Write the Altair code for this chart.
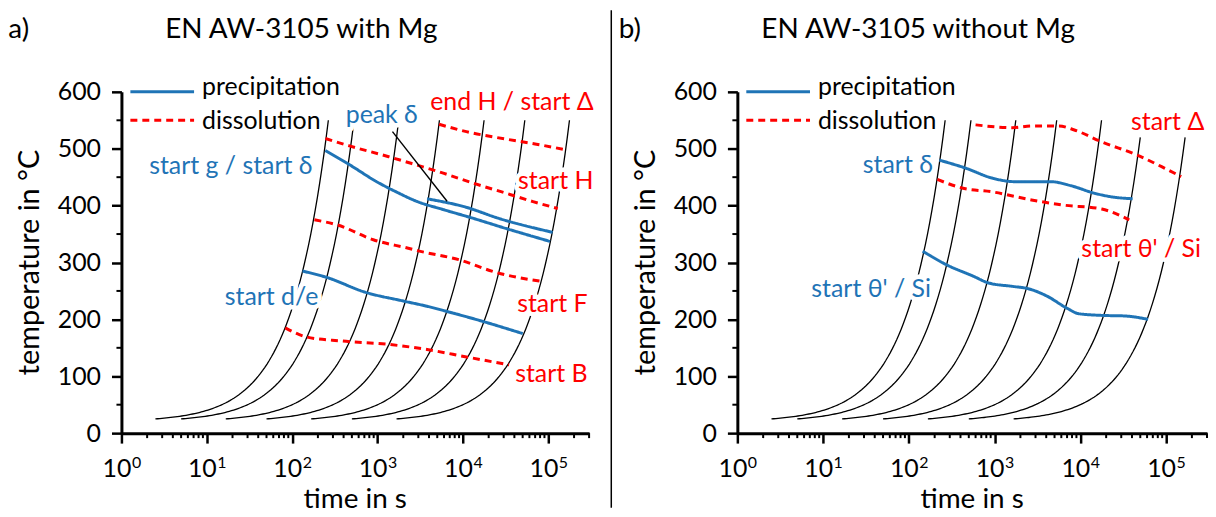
import altair as alt
import pandas as pd
import numpy as np

FONT = "Lato"
BLUE = "#1f74b6"
RED = "#ff0000"

# ---------------- data ----------------
heating_rates = [2, 1, 0.3, 0.1, 0.03, 0.01, 0.003]   # K/s
T_room = 20
T_first = 25
end_temp_a = [550, 550, 550, 550, 550, 550, 550]
end_temp_b = [550, 550, 550, 550, 550, 520, 520]

# panel a) with Mg  (time in s, temperature in degC)
a_g_delta_t = [244, 468, 977, 1660, 2818, 5888, 12303, 31623, 104713]
a_g_delta_T = [497, 472, 442, 424, 408, 393, 379, 360, 337]
a_peak_t = [3802, 10965, 25704, 112202]
a_peak_T = [412, 397, 378, 353]
a_de_t = [132, 251, 708, 2042, 3802, 6457, 16596, 50119]
a_de_T = [285, 274, 248, 232, 223, 214, 197, 175]
a_H_t = [245, 468, 1349, 2512, 5888, 13490, 31623, 66069, 128825]
a_H_T = [518, 505, 486, 474, 457, 439, 422, 407, 395]
a_endH_t = [5248, 10965, 31623, 72444, 162181]
a_endH_T = [543, 530, 517, 508, 498]
a_F_t = [182, 339, 891, 2291, 3090, 8913, 25119, 81283]
a_F_T = [375, 366, 340, 325, 320, 305, 282, 267]
a_B_t = [83, 148, 380, 1349, 3802, 10965, 34674]
a_B_T = [185, 169, 162, 156, 147, 134, 120]

# panel b) without Mg
b_delta_t = [226, 457, 955, 1778, 2692, 4571, 7762, 14454, 21878, 40738]
b_delta_T = [480, 466, 448, 442, 442, 442, 435, 422, 416, 412]
b_theta_t = [145, 275, 562, 851, 1622, 2455, 4074, 6918, 9550, 17783, 33113, 61660]
b_theta_T = [320, 296, 276, 264, 258, 254, 241, 220, 210, 207, 206, 200]
b_thdis_t = [215, 417, 955, 2692, 6310, 17783, 37154]
b_thdis_T = [446, 431, 424, 410, 401, 394, 375]
b_Delta_t = [600, 1622, 2692, 5623, 8511, 17783, 45709, 95499, 150000]
b_Delta_T = [542, 537, 540, 540, 533, 512, 489, 466, 451]

kinds = ["precipitation", "dissolution"]

# annotations (right edge in s, centre temperature)
a_labels = ["start g / start δ", "peak δ", "end H / start Δ", "start H", "start F", "start B", "start d/e"]
a_label_t = [172.7, 2958, 338800, 337000, 288000, 288000, 202]
a_label_T = [468.8, 559.2, 582.5, 442.5, 226.9, 104.4, 238.4]
a_label_c = [BLUE, BLUE, RED, RED, RED, RED, BLUE]
a_leader_t = [1494, 6510]
a_leader_T = [530, 407.6]

b_labels = ["start δ", "start Δ", "start θ' / Si", "start θ' / Si"]
b_label_t = [190.6, 278600, 255000, 180.7]
b_label_T = [471.7, 547.5, 323, 253]
b_label_c = [BLUE, RED, RED, BLUE]

major_ticks = [1, 10, 100, 1000, 10000, 100000]
major_exps = ["0", "1", "2", "3", "4", "5"]
minor_ticks_x = [k * 10 ** e for e in range(6) for k in range(2, 10) if k * 10 ** e <= 300000]
y_ticks = [0, 100, 200, 300, 400, 500, 600]
minor_ticks_y = [50, 150, 250, 350, 450, 550]

W_A, W_B, H = 470, 472, 343

AX_X = alt.Axis(values=major_ticks, labels=False, title=None, grid=False,
                tickSize=10, tickWidth=2.5, domainWidth=3, domainColor="black",
                tickColor="black")
AX_Y = alt.Axis(values=y_ticks, title=None, grid=False, labelFont=FONT,
                labelFontSize=25, labelColor="black", labelPadding=11,
                labelOverlap=False, tickSize=10, tickWidth=2.5, domainWidth=3,
                domainColor="black", tickColor="black")
XS = alt.Scale(type="log", domain=[1, 300000], nice=False)
YS = alt.Scale(domain=[0, 600], nice=False)


def X(field):
    return alt.X(field, scale=XS, axis=AX_X)


def Y(field):
    return alt.Y(field, scale=YS, axis=AX_Y)


def heating_df(end_temps):
    rows = []
    for i, (r, te) in enumerate(zip(heating_rates, end_temps)):
        t0 = (T_first - T_room) / r
        t1 = (te - T_room) / r
        for t in np.geomspace(t0, t1, 80):
            rows.append({"t": float(t), "T": T_room + r * float(t), "curve": i})
    return pd.DataFrame(rows)


def lines_df(series):
    rows = []
    for name, kind, ts, Ts in series:
        for t, T in zip(ts, Ts):
            rows.append({"t": t, "T": T, "series": name, "kind": kind})
    return pd.DataFrame(rows)


def panel(letter, title, width, end_temps, series, labels, lab_t, lab_T, lab_c,
          leader=None, divider=False, letter_x=-113.7, title_x=180.8):
    base_curves = alt.Chart(heating_df(end_temps)).mark_line(
        color="black", strokeWidth=1.3
    ).encode(x=X("t:Q"), y=Y("T:Q"), detail="curve:N")

    ldf = lines_df(series)
    lines = alt.Chart(ldf).mark_line(interpolate="monotone", strokeWidth=3).encode(
        x=X("t:Q"), y=Y("T:Q"),
        color=alt.Color("kind:N", scale=alt.Scale(domain=kinds, range=[BLUE, RED]), legend=None),
        strokeDash=alt.StrokeDash("kind:N", scale=alt.Scale(domain=kinds, range=[[1, 0], [7, 5]]), legend=None),
        detail="series:N",
    )

    layers = [base_curves, lines]

    if leader is not None:
        lead = alt.Chart(pd.DataFrame({"t": [leader[0][0]], "t2": [leader[0][1]],
                                       "T": [leader[1][0]], "T2": [leader[1][1]]})).mark_rule(
            color="black", strokeWidth=1.4
        ).encode(x=X("t:Q"), x2="t2:Q", y=Y("T:Q"), y2="T2:Q")
        layers.append(lead)

    lab_df = pd.DataFrame({"t": lab_t, "T": lab_T, "label": labels, "c": lab_c})
    halo = alt.Chart(lab_df).mark_text(
        align="right", baseline="middle", font=FONT, fontSize=25,
        color="white", stroke="white", strokeWidth=9, strokeJoin="round"
    ).encode(x=X("t:Q"), y=Y("T:Q"), text="label:N")
    txt = alt.Chart(lab_df).mark_text(
        align="right", baseline="middle", font=FONT, fontSize=25
    ).encode(x=X("t:Q"), y=Y("T:Q"), text="label:N", color=alt.Color("c:N", scale=None))
    layers += [halo, txt]

    # minor ticks
    mx = alt.Chart(pd.DataFrame({"v": minor_ticks_x})).mark_rule(color="black", strokeWidth=2).encode(
        x=X("v:Q"), y=alt.value(H), y2=alt.value(H + 5))
    my = alt.Chart(pd.DataFrame({"v": minor_ticks_y})).mark_rule(color="black", strokeWidth=2).encode(
        y=Y("v:Q"), x=alt.value(0), x2=alt.value(-5))
    layers += [mx, my]

    # x tick labels 10^n
    tdf = pd.DataFrame({"v": major_ticks, "exp": major_exps})
    ten = alt.Chart(tdf).mark_text(align="right", baseline="alphabetic", dx=10,
                                   font=FONT, fontSize=25, color="black").encode(
        x=X("v:Q"), y=alt.value(H + 44), text=alt.value("10"))
    sup = alt.Chart(tdf).mark_text(align="left", baseline="alphabetic", dx=10.5,
                                   font=FONT, fontSize=16, color="black").encode(
        x=X("v:Q"), y=alt.value(H + 35), text="exp:N")
    layers += [ten, sup]

    # axis titles
    xt = alt.Chart(pd.DataFrame({"a": [0]})).mark_text(
        align="center", baseline="alphabetic", font=FONT, fontSize=28, color="black"
    ).encode(x=alt.value(width / 2), y=alt.value(H + 75), text=alt.value("time in s"))
    yt = alt.Chart(pd.DataFrame({"a": [0]})).mark_text(
        align="center", baseline="middle", font=FONT, fontSize=29, color="black", angle=270
    ).encode(x=alt.value(-92), y=alt.value(H / 2), text=alt.value("temperature in °C"))
    layers += [xt, yt]

    # legend
    leg_line1 = alt.Chart(pd.DataFrame({"k": [kinds[0]]})).mark_rule(color=BLUE, strokeWidth=3).encode(
        x=alt.value(9), x2=alt.value(73), y=alt.value(0))
    leg_line2 = alt.Chart(pd.DataFrame({"k": [kinds[1]]})).mark_rule(
        color=RED, strokeWidth=3, strokeDash=[7, 5]).encode(
        x=alt.value(9), x2=alt.value(73), y=alt.value(28.6))
    leg_t1 = alt.Chart(pd.DataFrame({"k": [kinds[0]]})).mark_text(
        align="left", baseline="middle", font=FONT, fontSize=25, color="black").encode(
        x=alt.value(81), y=alt.value(-5), text="k:N")
    leg_t2 = alt.Chart(pd.DataFrame({"k": [kinds[1]]})).mark_text(
        align="left", baseline="middle", font=FONT, fontSize=25, color="black").encode(
        x=alt.value(81), y=alt.value(29), text="k:N")
    layers += [leg_line1, leg_line2, leg_t1, leg_t2]

    # titles
    ttl = alt.Chart(pd.DataFrame({"a": [0]})).mark_text(
        align="center", baseline="alphabetic", font=FONT, fontSize=28, color="black"
    ).encode(x=alt.value(title_x), y=alt.value(-54), text=alt.value(title))
    let = alt.Chart(pd.DataFrame({"a": [0]})).mark_text(
        align="left", baseline="alphabetic", font=FONT, fontSize=28, color="black"
    ).encode(x=alt.value(letter_x), y=alt.value(-54), text=alt.value(letter))
    layers += [ttl, let]

    if divider:
        div = alt.Chart(pd.DataFrame({"a": [0]})).mark_rule(color="black", strokeWidth=1.5).encode(
            x=alt.value(492.3), y=alt.value(-82), y2=alt.value(418))
        layers.append(div)

    return alt.layer(*layers).properties(width=width, height=H)


series_a = [
    ("g_delta", "precipitation", a_g_delta_t, a_g_delta_T),
    ("peak", "precipitation", a_peak_t, a_peak_T),
    ("de", "precipitation", a_de_t, a_de_T),
    ("H", "dissolution", a_H_t, a_H_T),
    ("endH", "dissolution", a_endH_t, a_endH_T),
    ("F", "dissolution", a_F_t, a_F_T),
    ("B", "dissolution", a_B_t, a_B_T),
]
series_b = [
    ("delta", "precipitation", b_delta_t, b_delta_T),
    ("theta", "precipitation", b_theta_t, b_theta_T),
    ("thdis", "dissolution", b_thdis_t, b_thdis_T),
    ("Delta", "dissolution", b_Delta_t, b_Delta_T),
]

pa = panel("a)", "EN AW-3105 with Mg", W_A, end_temp_a, series_a,
           a_labels, a_label_t, a_label_T, a_label_c,
           leader=(a_leader_t, a_leader_T), divider=True,
           letter_x=-113.7, title_x=180.8)
pb = panel("b)", "EN AW-3105 without Mg", W_B, end_temp_b, series_b,
           b_labels, b_label_t, b_label_T, b_label_c,
           letter_x=-119.3, title_x=181.7)

chart = alt.hconcat(pa, pb, spacing=149, bounds="flush").properties(
    padding=0, background="white"
).configure_view(strokeWidth=0)

chart.save("out.html", embed_options={"renderer": "svg", "actions": False})
